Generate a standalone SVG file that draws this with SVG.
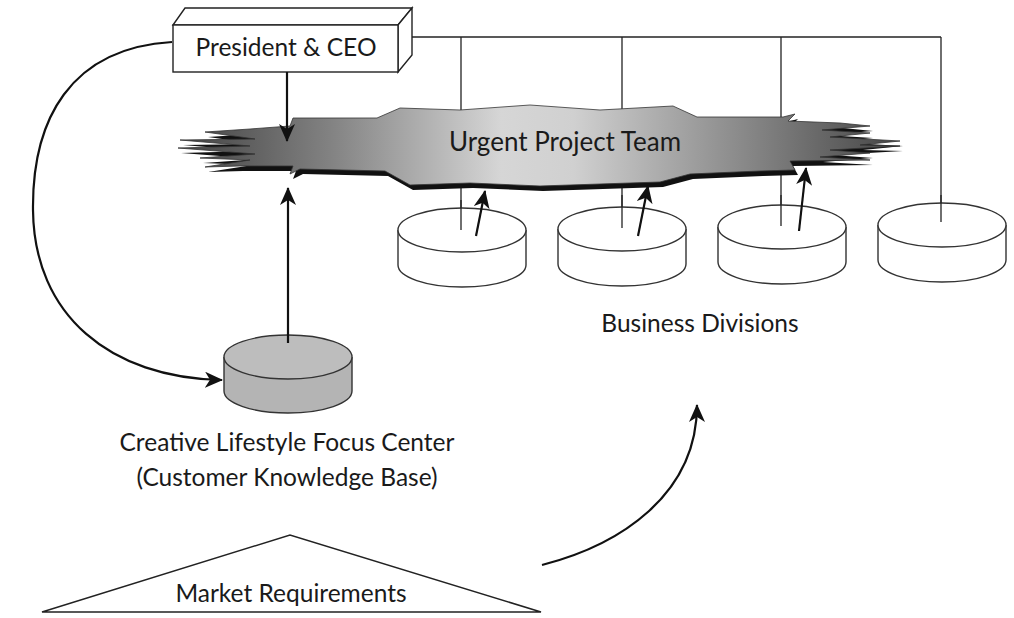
<svg xmlns="http://www.w3.org/2000/svg" width="1014" height="618" viewBox="0 0 1014 618">
<defs>
<style>
.t{font-family:"Lato","Open Sans","DejaVu Sans",sans-serif;font-size:24.5px;fill:#1a1a1a;text-anchor:middle}
.ln{stroke:#222;stroke-width:1.3;fill:none}
.ar{stroke:#111;stroke-width:2.2;fill:none}
.cyl{fill:#fff;stroke:#333;stroke-width:1.4}
</style>
<marker id="ah" viewBox="0 0 18 16" refX="17" refY="8" markerWidth="18" markerHeight="16" markerUnits="userSpaceOnUse" orient="auto">
<path d="M0,0 L18,8 L0,16 L5,8 Z" fill="#111"/>
</marker>
<linearGradient id="g" gradientUnits="userSpaceOnUse" x1="175" y1="0" x2="900" y2="0">
<stop offset="0" stop-color="#404040"/>
<stop offset="0.22" stop-color="#848484"/>
<stop offset="0.45" stop-color="#d6d6d6"/>
<stop offset="0.55" stop-color="#d0d0d0"/>
<stop offset="0.78" stop-color="#8a8a8a"/>
<stop offset="1" stop-color="#454545"/>
</linearGradient>
<path id="burst" d="M293,118 L377,118 L400,108 L460,110 L530,105 L600,110 L673,106 L697,117 L783,117 L795,114 L788,121 L840,123 L870,126 L822,130 L870,133 L830,137 L900,141 L860,145 L900,146 L830,150 L870,153 L820,157 L870,160 L790,161 L795,170 L760,171 L690,174 L660,182 L600,184 L540,186 L470,183 L410,185 L385,171 L300,169 L290,174 L293,166 L240,166 L205,167 L250,160 L200,158 L255,154 L178,148 L250,146 L180,140 L255,139 L205,132 L250,129 L290,126 Z"/>
</defs>
<rect width="1014" height="618" fill="#fff"/>

<g id="connectors">
<polyline class="ln" points="412,37 941,37"/>
<line class="ln" x1="461" y1="37" x2="461" y2="230"/>
<line class="ln" x1="622" y1="37" x2="622" y2="228"/>
<line class="ln" x1="781" y1="37" x2="781" y2="226"/>
<line class="ln" x1="941" y1="37" x2="941" y2="222"/>
</g>

<g id="urgent-team">
<use href="#burst" transform="translate(3,5)" fill="#111"/>
<use href="#burst" fill="url(#g)" stroke="#333" stroke-width="0.8"/>
<text class="t" x="565" y="151" style="font-size:26px">Urgent Project Team</text>
</g>

<g id="ceo">
<polygon points="173,25 185,8 412,8 398,25" fill="#fff" stroke="#222" stroke-width="1.4"/>
<polygon points="398,25 412,8 412,55 398,72" fill="#fff" stroke="#222" stroke-width="1.4"/>
<rect x="173" y="25" width="225" height="47" fill="#fff" stroke="#222" stroke-width="1.4"/>
<text class="t" x="286" y="56">President &amp; CEO</text>
</g>

<g id="div1">
<path class="cyl" d="M398,230 L398,265 A64,22 0 0 0 526,265 L526,230"/>
<ellipse class="cyl" cx="462" cy="230" rx="64" ry="22"/>
<line class="ln" x1="461" y1="200" x2="461" y2="230"/>
</g>
<g id="div2">
<path class="cyl" d="M558,229 L558,264 A64,22 0 0 0 686,264 L686,229"/>
<ellipse class="cyl" cx="622" cy="229" rx="64" ry="22"/>
<line class="ln" x1="622" y1="195" x2="622" y2="228"/>
</g>
<g id="div3">
<path class="cyl" d="M718,227 L718,262 A64,22 0 0 0 846,262 L846,227"/>
<ellipse class="cyl" cx="782" cy="227" rx="64" ry="22"/>
<line class="ln" x1="781" y1="195" x2="781" y2="226"/>
</g>
<g id="div4">
<path class="cyl" d="M878,225 L878,260 A64,22 0 0 0 1006,260 L1006,225"/>
<ellipse class="cyl" cx="942" cy="225" rx="64" ry="22"/>
<line class="ln" x1="941" y1="195" x2="941" y2="222"/>
</g>

<g id="focus-center">
<path d="M224,357 L224,391 A64,22 0 0 0 352,391 L352,357" fill="#b4b4b4" stroke="#333" stroke-width="1.4"/>
<ellipse cx="288" cy="357" rx="64" ry="22" fill="#bdbdbd" stroke="#333" stroke-width="1.4"/>
<text class="t" x="287" y="451">Creative Lifestyle Focus Center</text>
<text class="t" x="287" y="486">(Customer Knowledge Base)</text>
</g>

<g id="market">
<polygon points="42,612 541,612 290,535" fill="#fff" stroke="#222" stroke-width="1.5"/>
<text class="t" x="291" y="602">Market Requirements</text>
</g>

<g id="label-divisions">
<text class="t" x="700" y="332">Business Divisions</text>
</g>

<g id="arrows">
<line class="ar" x1="287" y1="72" x2="287" y2="141" marker-end="url(#ah)"/>
<line class="ar" x1="288" y1="343" x2="288" y2="188" marker-end="url(#ah)"/>
<line class="ar" x1="476" y1="236" x2="485" y2="191" marker-end="url(#ah)"/>
<line class="ar" x1="638" y1="236" x2="648" y2="186" marker-end="url(#ah)"/>
<line class="ar" x1="799" y1="231" x2="806" y2="168" marker-end="url(#ah)"/>
<path class="ar" d="M172,42 C70,48 32,120 33,210 C34,315 110,378 222,380" marker-end="url(#ah)"/>
<path class="ar" d="M542,565 C620,545 697,495 697,405" marker-end="url(#ah)"/>
</g>
</svg>
